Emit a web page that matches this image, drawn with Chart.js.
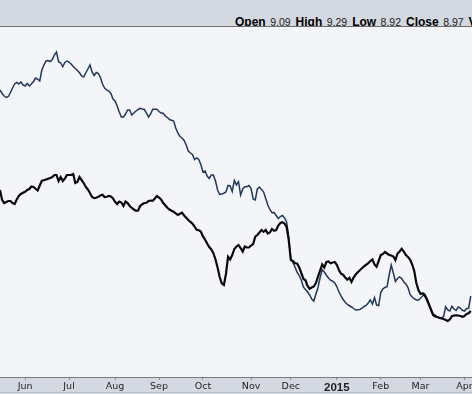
<!DOCTYPE html>
<html>
<head>
<meta charset="utf-8">
<script src="https://cdn.jsdelivr.net/npm/chart.js@4/dist/chart.umd.min.js"></script>
<style>
  html, body { margin: 0; padding: 0; }
  body { width: 472px; height: 394px; overflow: hidden; position: relative; background: #f4f5f9; }
  #hdr { position: absolute; left: 0; top: 0; width: 472px; height: 26px; background: #d4d8e1; border-bottom: 1px solid #6e6e6e; overflow: hidden; }
  #quote { position: absolute; left: 235px; top: 15px; white-space: nowrap; line-height: 12px; color: #000; font-family: "Liberation Sans", Arial, sans-serif; }
  #quote b { font-size: 12px; font-weight: bold; }
  #quote span { font-size: 10.5px; color: #222; margin-right: 5px; }
  #wrap { position: absolute; left: 0; top: 27px; width: 472px; height: 367px; }
</style>
</head>
<body>
<div id="hdr"><div id="quote"><b>Open</b> <span>9.09</span><b>High</b> <span>9.29</span><b>Low</b> <span>8.92</span><b>Close</b> <span>8.97</span><b>Vol</b></div></div>
<div id="wrap"><canvas id="c" width="472" height="367"></canvas></div>
<script>
// Month tick positions (trading-day index) and their labels
const monthTickIdx = [12, 33, 55, 76, 97, 120, 139, 161, 182, 201, 222];
const monthLabels = ['Jun', 'Jul', 'Aug', 'Sep', 'Oct', 'Nov', 'Dec', '2015', 'Feb', 'Mar', 'Apr'];

// Main series (black), one value per trading day from mid-May 2014
const mainSeries = [
13.84,13.44,13.32,13.36,13.40,13.40,13.32,13.28,13.46,13.60,
13.68,13.73,13.77,13.84,13.88,13.98,13.96,13.89,13.82,14.02,
14.21,14.23,14.26,14.29,14.32,14.36,14.44,14.44,14.20,14.36,
14.20,14.30,14.44,14.44,14.44,14.48,14.12,14.16,14.36,14.24,
14.12,13.96,13.86,13.72,13.56,13.52,13.53,13.57,13.62,13.65,
13.56,13.57,13.60,13.58,13.50,13.37,13.28,13.38,13.34,13.20,
13.38,13.32,13.20,13.12,13.06,13.01,13.02,13.20,13.27,13.32,
13.33,13.40,13.42,13.41,13.50,13.60,13.54,13.46,13.32,13.23,
13.13,13.06,13.01,12.97,12.90,12.84,12.89,12.93,12.82,12.73,
12.64,12.56,12.50,12.38,12.25,12.23,12.18,11.98,11.86,11.70,
11.56,11.46,11.31,11.06,10.74,10.36,10.11,10.04,10.48,11.17,
11.06,11.24,11.48,11.58,11.64,11.52,11.38,11.58,11.54,11.54,
11.62,11.68,11.97,12.04,12.14,12.24,12.17,12.24,12.10,12.14,
12.28,12.21,12.24,12.42,12.52,12.55,12.50,12.36,11.84,11.04,
11.00,10.91,10.90,10.75,10.52,10.29,10.23,10.00,9.89,9.94,
9.98,10.12,10.38,10.62,10.86,10.74,10.96,10.98,10.91,10.94,
10.96,10.85,10.64,10.49,10.45,10.34,10.25,10.33,10.16,10.34,
10.46,10.55,10.63,10.71,10.79,10.85,10.91,11.00,11.06,10.86,
10.77,11.00,11.24,11.28,11.36,11.30,11.24,11.22,11.18,11.04,
11.30,11.38,11.49,11.38,11.24,11.16,11.06,10.86,10.60,10.12,
9.84,9.68,9.71,9.62,9.46,9.26,9.05,8.84,8.78,8.76,
8.73,8.70,8.68,8.64,8.60,8.66,8.79,8.82,8.83,8.82,
8.80,8.77,8.80,8.88,8.91,9.00
];

// Comparison series (navy)
const compareSeries = [
17.84,17.70,17.60,17.54,17.58,17.74,17.92,18.08,18.14,18.08,
18.16,18.04,18.00,18.10,18.00,18.08,18.18,18.32,18.28,18.20,
18.64,18.84,19.00,19.02,18.98,19.06,19.24,19.36,18.97,18.92,
18.77,18.94,19.00,18.96,18.88,18.78,18.70,18.62,18.53,18.40,
18.36,18.52,18.68,18.84,18.56,18.42,18.54,18.50,18.34,18.08,
17.92,17.84,17.80,17.70,17.48,17.40,17.20,16.96,16.76,16.76,
16.88,17.04,17.04,16.84,16.92,17.00,17.06,17.11,17.08,17.06,
16.92,16.76,16.88,17.07,17.07,17.07,16.98,16.92,16.91,16.80,
16.74,16.66,16.63,16.60,16.32,16.12,15.98,15.92,15.82,15.64,
15.40,15.32,15.26,15.06,15.12,15.06,14.86,14.56,14.60,14.40,
14.30,14.44,14.44,14.20,13.84,13.66,13.68,13.71,13.76,14.02,
14.00,13.78,14.22,14.04,14.17,13.64,13.88,13.97,13.97,14.02,
13.90,13.48,13.44,13.88,13.96,13.86,13.76,13.50,13.24,13.06,
12.93,12.94,12.82,12.70,12.78,12.82,12.72,12.56,11.92,11.08,
10.94,10.76,10.55,10.42,10.24,9.96,9.86,9.76,9.64,9.48,
9.40,9.68,9.94,10.34,10.66,10.56,10.43,10.32,10.23,10.19,
10.12,9.98,9.76,9.60,9.46,9.35,9.26,9.21,9.16,9.10,
9.04,9.05,9.06,9.11,9.18,9.22,9.32,9.44,9.28,9.54,
9.24,9.22,9.74,9.88,9.94,9.97,10.44,10.84,10.52,10.18,
10.30,10.36,10.30,10.16,10.08,9.94,9.66,9.56,9.49,9.44,
9.44,9.51,9.60,9.68,9.52,9.30,9.08,8.88,8.84,8.76,
8.71,8.72,8.77,9.17,9.04,9.00,9.19,9.08,9.02,9.16,
9.12,9.03,9.00,9.10,9.11,9.60
];

const toXY = arr => arr.map((v, i) => ({ x: i, y: v }));

const bgPlugin = {
  id: 'bands',
  beforeDraw(chart) {
    const { ctx, chartArea, width, height } = chart;
    ctx.save();
    ctx.fillStyle = '#f4f5f9';
    ctx.fillRect(0, 0, width, chartArea.bottom);
    ctx.fillStyle = '#d4d8e1';
    ctx.fillRect(0, chartArea.bottom, width, height - chartArea.bottom);
    ctx.fillStyle = '#b9bdc7';
    ctx.fillRect(0, height - 2, width, 1);
    ctx.restore();
  }
};

new Chart(document.getElementById('c'), {
  type: 'line',
  data: {
    datasets: [
      { data: toXY(mainSeries), borderColor: '#0a0a0a', borderWidth: 2.2, pointRadius: 0, tension: 0, fill: false },
      { data: toXY(compareSeries), borderColor: '#23375a', borderWidth: 1.5, pointRadius: 0, tension: 0, fill: false }
    ]
  },
  options: {
    responsive: false,
    animation: false,
    events: [],
    layout: { padding: 0 },
    plugins: { legend: { display: false }, tooltip: { enabled: false } },
    scales: {
      x: {
        type: 'linear',
        min: 0,
        max: 225.6,
        afterBuildTicks: s => { s.ticks = monthTickIdx.map(v => ({ value: v })); },
        afterFit: s => { s.height = 17; s.paddingLeft = 0; s.paddingRight = 0; },
        grid: { drawOnChartArea: false, drawTicks: true, tickLength: 3, tickColor: '#8a8e96' },
        border: { display: true, color: '#7a7a7a', width: 1 },
        ticks: {
          autoSkip: false,
          maxRotation: 0,
          padding: 1,
          color: '#1e1e1e',
          callback: (v, i) => monthLabels[i],
          font: ctx => (monthLabels[ctx.index] === '2015')
            ? { family: '"Liberation Sans", Arial, sans-serif', size: 11.5, weight: 'bold' }
            : { family: '"DejaVu Sans", Verdana, sans-serif', size: 9.5 }
        }
      },
      y: {
        display: false,
        min: 6.36,
        max: 20.36
      }
    }
  },
  plugins: [bgPlugin]
});
</script>
</body>
</html>
